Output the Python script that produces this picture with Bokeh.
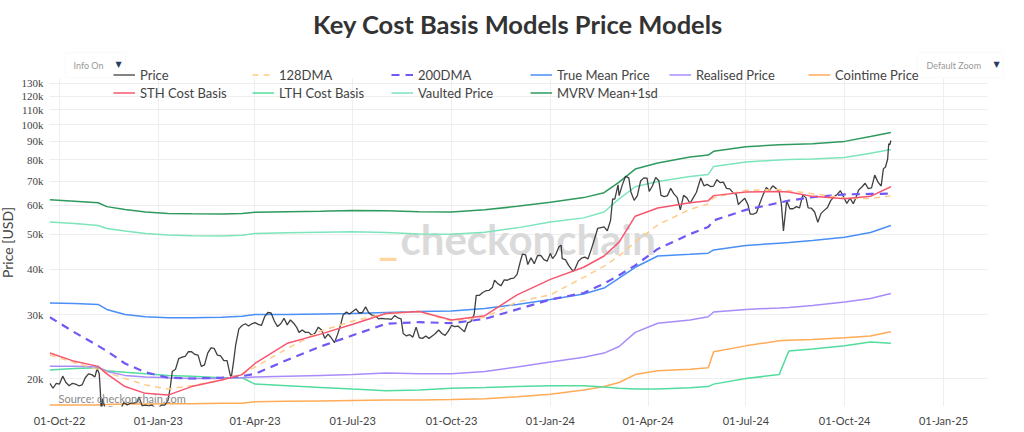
import numpy as np
import pandas as pd
from bokeh.plotting import figure
from bokeh.models import (Range1d, FixedTicker, DatetimeTickFormatter, ColumnDataSource,
                          Legend, LegendItem, Label, LabelSet, BoxAnnotation)
from bokeh.embed import file_html
from bokeh.resources import INLINE

TITLE = "Key Cost Basis Models Price Models"
FONT = "Lato"

# ---------------- data (USD thousands) ----------------
price_dates = [
    "2022-09-22", "2022-09-25", "2022-09-28",
    "2022-10-01", "2022-10-04", "2022-10-07", "2022-10-10", "2022-10-13", "2022-10-16", "2022-10-19", "2022-10-22", "2022-10-25", "2022-10-28", "2022-10-31",
    "2022-11-03", "2022-11-05", "2022-11-07", "2022-11-08", "2022-11-09", "2022-11-10", "2022-11-13", "2022-11-16", "2022-11-19", "2022-11-21", "2022-11-24", "2022-11-27", "2022-11-30",
    "2022-12-03", "2022-12-06", "2022-12-09", "2022-12-12", "2022-12-14", "2022-12-17", "2022-12-20", "2022-12-23", "2022-12-26", "2022-12-29",
    "2023-01-01", "2023-01-04", "2023-01-07", "2023-01-10", "2023-01-12", "2023-01-14", "2023-01-17", "2023-01-20", "2023-01-23", "2023-01-26", "2023-01-29",
    "2023-02-01", "2023-02-04", "2023-02-07", "2023-02-10", "2023-02-13", "2023-02-16", "2023-02-19", "2023-02-22", "2023-02-25", "2023-02-28",
    "2023-03-03", "2023-03-06", "2023-03-09", "2023-03-10", "2023-03-12", "2023-03-14", "2023-03-17", "2023-03-20", "2023-03-23", "2023-03-26", "2023-03-29",
    "2023-04-01", "2023-04-04", "2023-04-07", "2023-04-10", "2023-04-13", "2023-04-16", "2023-04-19", "2023-04-22", "2023-04-25", "2023-04-28",
    "2023-05-01", "2023-05-04", "2023-05-07", "2023-05-10", "2023-05-12", "2023-05-15", "2023-05-18", "2023-05-21", "2023-05-24", "2023-05-27", "2023-05-30",
    "2023-06-02", "2023-06-05", "2023-06-08", "2023-06-11", "2023-06-14", "2023-06-17", "2023-06-20", "2023-06-22", "2023-06-25", "2023-06-28",
    "2023-07-01", "2023-07-04", "2023-07-07", "2023-07-10", "2023-07-13", "2023-07-16", "2023-07-19", "2023-07-22", "2023-07-25", "2023-07-28", "2023-07-31",
    "2023-08-03", "2023-08-06", "2023-08-09", "2023-08-12", "2023-08-15", "2023-08-17", "2023-08-20", "2023-08-23", "2023-08-26", "2023-08-29",
    "2023-09-01", "2023-09-04", "2023-09-07", "2023-09-10", "2023-09-13", "2023-09-16", "2023-09-19", "2023-09-22", "2023-09-25", "2023-09-28",
    "2023-10-01", "2023-10-04", "2023-10-07", "2023-10-10", "2023-10-13", "2023-10-16", "2023-10-19", "2023-10-22", "2023-10-24", "2023-10-27", "2023-10-30",
    "2023-11-02", "2023-11-05", "2023-11-08", "2023-11-10", "2023-11-13", "2023-11-16", "2023-11-19", "2023-11-22", "2023-11-25", "2023-11-28",
    "2023-12-01", "2023-12-04", "2023-12-06", "2023-12-09", "2023-12-11", "2023-12-14", "2023-12-17", "2023-12-20", "2023-12-23", "2023-12-26", "2023-12-29",
    "2024-01-01", "2024-01-03", "2024-01-06", "2024-01-09", "2024-01-11", "2024-01-12", "2024-01-15", "2024-01-18", "2024-01-22", "2024-01-24", "2024-01-27", "2024-01-30",
    "2024-02-02", "2024-02-05", "2024-02-08", "2024-02-11", "2024-02-14", "2024-02-17", "2024-02-20", "2024-02-23", "2024-02-26", "2024-02-28",
    "2024-03-01", "2024-03-04", "2024-03-05", "2024-03-08", "2024-03-11", "2024-03-14", "2024-03-16", "2024-03-19", "2024-03-22", "2024-03-25", "2024-03-28", "2024-03-31",
    "2024-04-02", "2024-04-05", "2024-04-08", "2024-04-11", "2024-04-13", "2024-04-16", "2024-04-19", "2024-04-22", "2024-04-25", "2024-04-28",
    "2024-05-01", "2024-05-04", "2024-05-07", "2024-05-10", "2024-05-13", "2024-05-16", "2024-05-20", "2024-05-23", "2024-05-26", "2024-05-29",
    "2024-06-01", "2024-06-04", "2024-06-07", "2024-06-10", "2024-06-13", "2024-06-16", "2024-06-19", "2024-06-22", "2024-06-24", "2024-06-27", "2024-06-30",
    "2024-07-03", "2024-07-05", "2024-07-08", "2024-07-11", "2024-07-14", "2024-07-17", "2024-07-20", "2024-07-23", "2024-07-26", "2024-07-29",
    "2024-08-01", "2024-08-03", "2024-08-05", "2024-08-08", "2024-08-11", "2024-08-14", "2024-08-17", "2024-08-20", "2024-08-23", "2024-08-26", "2024-08-28", "2024-08-31",
    "2024-09-03", "2024-09-06", "2024-09-09", "2024-09-12", "2024-09-15", "2024-09-18", "2024-09-21", "2024-09-24", "2024-09-27", "2024-09-30",
    "2024-10-03", "2024-10-06", "2024-10-09", "2024-10-11", "2024-10-14", "2024-10-17", "2024-10-20", "2024-10-23", "2024-10-26", "2024-10-29",
    "2024-11-01", "2024-11-04", "2024-11-06", "2024-11-08", "2024-11-10", "2024-11-11", "2024-11-12", "2024-11-13",
]
price_k = [
    19.4, 18.8, 19.4,
    19.3, 20.3, 19.5, 19.1, 19.4, 19.3, 19.1, 19.2, 20.1, 20.6, 20.5,
    20.2, 21.3, 20.6, 18.5, 15.9, 17.6, 16.3, 16.7, 16.7, 15.8, 16.6, 16.5, 17.2,
    16.9, 17.1, 17.1, 17.2, 17.8, 16.8, 16.9, 16.8, 16.9, 16.6,
    16.6, 16.9, 16.9, 17.4, 18.8, 20.9, 21.2, 22.7, 22.9, 23.0, 23.7,
    23.7, 23.3, 23.2, 21.6, 21.8, 23.5, 24.3, 24.2, 23.2, 23.1,
    22.4, 22.4, 20.4, 20.2, 22.2, 24.7, 27.4, 28.0, 28.3, 27.9, 28.3,
    28.5, 28.2, 28.0, 29.6, 30.4, 30.3, 28.8, 27.8, 28.3, 29.3,
    28.1, 29.0, 28.4, 27.6, 26.8, 27.2, 26.8, 26.8, 26.3, 26.7, 27.7,
    27.2, 25.8, 26.5, 25.9, 25.1, 26.5, 28.3, 29.9, 30.5, 30.1,
    30.6, 31.1, 30.3, 30.4, 31.5, 30.3, 29.9, 29.8, 29.2, 29.3, 29.2,
    29.2, 29.1, 29.8, 29.4, 29.2, 26.6, 26.2, 26.4, 26.0, 27.7,
    25.9, 25.8, 26.2, 25.8, 26.2, 26.6, 27.2, 26.6, 26.3, 27.0,
    28.0, 27.8, 27.9, 27.4, 26.9, 28.5, 28.7, 30.0, 33.9, 33.9, 34.5,
    34.9, 35.0, 35.6, 37.3, 36.5, 36.0, 37.4, 37.3, 37.7, 37.8,
    38.7, 42.0, 44.0, 43.8, 41.2, 43.0, 41.4, 43.6, 43.7, 42.5, 42.1,
    44.2, 42.8, 43.9, 46.1, 46.6, 42.8, 42.5, 41.0, 39.5, 40.1, 42.1, 42.9,
    43.2, 42.7, 45.3, 48.3, 51.8, 52.1, 52.3, 51.0, 54.5, 62.5,
    62.4, 68.3, 63.8, 68.3, 72.1, 71.4, 65.3, 61.9, 63.8, 70.0, 71.4, 71.3,
    65.5, 67.8, 71.6, 70.1, 63.9, 63.4, 63.8, 66.8, 64.5, 63.1,
    58.3, 63.9, 62.9, 60.8, 62.9, 65.2, 71.4, 67.9, 68.5, 67.6,
    67.8, 70.6, 69.3, 69.5, 66.8, 66.6, 65.0, 64.3, 60.3, 61.6, 62.7,
    60.2, 56.7, 56.7, 57.3, 60.8, 64.1, 67.2, 65.9, 67.9, 66.8,
    65.4, 60.7, 51.0, 61.7, 58.7, 58.7, 59.5, 59.0, 64.1, 62.9, 59.0, 58.9,
    57.5, 53.9, 57.0, 58.1, 59.2, 61.8, 63.3, 64.3, 65.8, 63.3,
    60.7, 62.8, 60.6, 62.5, 66.1, 67.4, 69.0, 66.7, 67.0, 72.7,
    69.5, 67.8, 75.6, 76.5, 80.5, 88.7, 88.0, 90.5,
]

model_dates = ["2022-09-22", "2022-10-15", "2022-11-06", "2022-11-14", "2022-12-01", "2022-12-20",
               "2023-01-10", "2023-02-01", "2023-03-01", "2023-03-20", "2023-04-01", "2023-05-01",
               "2023-06-01", "2023-07-01", "2023-08-01", "2023-09-01", "2023-10-01", "2023-11-01",
               "2023-12-01", "2024-01-01", "2024-02-01", "2024-02-20", "2024-03-05", "2024-03-20",
               "2024-04-10", "2024-05-10", "2024-05-27", "2024-06-01", "2024-07-01", "2024-08-01",
               "2024-08-10", "2024-09-01", "2024-10-01", "2024-10-25", "2024-11-13"]
mvrv_mean_1sd_k = [62.2, 61.6, 61.0, 59.5, 58.4, 57.5, 57.0, 56.9, 56.8, 57.0, 57.4, 57.6,
                   57.8, 58.1, 58.0, 57.6, 57.5, 58.3, 59.6, 61.2, 63.0, 65.0, 69.5, 75.5,
                   78.5, 81.5, 82.5, 84.5, 87.0, 88.1, 88.3, 88.6, 90.0, 92.8, 95.2]
vaulted_price_k = [54.0, 53.5, 52.8, 51.8, 51.0, 50.2, 49.7, 49.5, 49.4, 49.6, 50.2, 50.4,
                   50.6, 50.7, 50.5, 50.0, 49.9, 50.6, 52.0, 54.0, 55.4, 57.5, 62.5, 67.5,
                   69.8, 72.0, 73.0, 76.8, 79.0, 80.0, 80.2, 80.5, 81.3, 83.5, 85.5]
true_mean_price_k = [32.3, 32.2, 32.0, 31.0, 30.0, 29.6, 29.4, 29.4, 29.5, 29.7, 30.0, 30.0,
                     30.1, 30.2, 30.4, 30.6, 30.7, 31.2, 32.0, 33.0, 34.2, 35.5, 37.8, 40.5,
                     43.5, 44.0, 44.3, 45.2, 46.5, 47.2, 47.4, 48.0, 49.0, 50.5, 52.8]
realised_price_k = [21.6, 21.6, 21.5, 20.9, 20.4, 20.2, 20.1, 20.0, 20.0, 20.1, 20.2, 20.3,
                    20.4, 20.5, 20.7, 20.6, 20.6, 20.9, 21.5, 22.2, 22.9, 23.5, 24.5, 26.8,
                    28.4, 29.0, 29.6, 30.5, 31.0, 31.3, 31.4, 31.8, 32.5, 33.2, 34.3]
cointime_price_k = [16.9, 16.9, 16.9, 16.95, 17.0, 17.0, 17.05, 17.05, 17.1, 17.1, 17.25, 17.3,
                    17.35, 17.4, 17.45, 17.45, 17.5, 17.6, 17.8, 18.1, 18.6, 19.0, 19.5, 20.5,
                    21.0, 21.2, 21.4, 23.7, 24.6, 25.4, 25.5, 25.6, 25.9, 26.2, 26.9]
lth_cost_basis_k = [21.1, 21.3, 21.4, 21.0, 20.8, 20.6, 20.4, 20.3, 20.1, 20.1, 19.3, 19.1,
                    18.9, 18.7, 18.5, 18.6, 18.8, 18.9, 19.0, 19.1, 19.1, 18.95, 18.8, 18.7,
                    18.7, 18.85, 19.0, 19.3, 20.0, 20.5, 23.8, 24.1, 24.6, 25.2, 25.0]
sth_cost_basis_k = [23.5, 22.3, 21.6, 20.6, 19.0, 18.2, 18.0, 19.0, 19.8, 20.5, 22.0, 25.0,
                    26.5, 28.2, 30.2, 30.6, 29.0, 29.8, 34.0, 37.5, 40.5, 43.5, 47.5, 56.0,
                    59.0, 61.0, 61.8, 63.8, 65.3, 65.5, 65.3, 63.5, 62.5, 63.5, 67.5]
dma128_k = [23.2, 22.1, 21.2, 20.8, 20.0, 19.2, 18.7, 19.1, 19.8, 20.6, 21.5, 24.2,
            27.0, 28.8, 30.2, 30.6, 28.8, 29.5, 32.5, 34.0, 38.0, 40.8, 43.5, 47.5,
            53.0, 58.5, 60.5, 63.0, 66.0, 66.2, 65.8, 64.6, 62.8, 62.6, 63.7]
dma200_k = [29.5, 26.8, 24.6, 23.8, 22.0, 20.8, 20.1, 20.0, 20.1, 20.3, 20.6, 22.5,
            24.5, 26.3, 28.3, 28.6, 28.4, 29.2, 31.0, 33.0, 34.4, 36.5, 38.5, 41.0,
            45.5, 50.0, 52.3, 54.5, 58.3, 61.0, 61.8, 63.2, 64.3, 64.5, 64.6]

y_ticks = [20000, 30000, 40000, 50000, 60000, 70000, 80000, 90000, 100000, 110000, 120000, 130000]
y_tick_labels = ["20k", "30k", "40k", "50k", "60k", "70k", "80k", "90k", "100k", "110k", "120k", "130k"]
x_tick_dates = ["2022-10-01", "2023-01-01", "2023-04-01", "2023-07-01", "2023-10-01",
                "2024-01-01", "2024-04-01", "2024-07-01", "2024-10-01", "2025-01-01"]

assert len(price_dates) == len(price_k)

DAY = 86400000.0


def ms(d):
    return pd.Timestamp(d).value / 1e6


# ---------------- layout geometry (pixels) ----------------
W, H = 1024, 432
FB = 406                     # frame bottom; frame spans the canvas above and across
PLOT_LEFT, PLOT_TOP, PLOT_RIGHT = 49, 78, 987
PX_DAY = (943 - 59) / 823.0  # horizontal scale
PX_DEC = 363.0               # pixels per decade (log y)
Y20 = 378                    # screen y of the 20k gridline
X_OCT22 = 59                 # screen x of 01-Oct-22


def x_at(px):
    return ms("2022-10-01") + (px - X_OCT22) / PX_DAY * DAY


def y_at(py):
    return 20000 * 10 ** ((Y20 - py) / PX_DEC)


p = figure(width=W, height=H, x_axis_type="datetime", y_axis_type="log",
           x_range=Range1d(x_at(0), x_at(W)), y_range=Range1d(y_at(FB), y_at(0)),
           output_backend="svg", toolbar_location=None,
           min_border_left=0, min_border_right=0, min_border_top=0, min_border_bottom=H - FB,
           background_fill_color="white", border_fill_color="white")
p.outline_line_color = None

ax = p.xaxis
ax.axis_line_color = None
ax.major_tick_line_color = None
ax.minor_tick_line_color = None
ax.major_tick_out = 0
ax.major_tick_in = 0
ax.minor_tick_out = 0
ax.minor_tick_in = 0
ax.major_label_text_font = FONT
ax.major_label_text_font_size = "11px"
ax.major_label_text_color = "#444444"
ax.major_label_standoff = 7
ax.ticker = FixedTicker(ticks=[ms(d) for d in x_tick_dates])
fmt = "%d-%b-%y"
ax.formatter = DatetimeTickFormatter(days=fmt, months=fmt, years=fmt)
p.yaxis.ticker = FixedTicker(ticks=y_ticks)
p.yaxis.visible = False
p.xgrid.grid_line_color = "#eeeeee"
p.ygrid.grid_line_color = "#eeeeee"

# watermark (behind lines)
WM_BASE = 238
p.add_layout(Label(x=378, y=FB - WM_BASE, x_units="screen", y_units="screen", text="_",
                   text_font=FONT, text_font_style="bold", text_font_size="42px",
                   text_color="#fdd6a4", text_baseline="alphabetic", level="underlay"))
p.add_layout(Label(x=400, y=FB - WM_BASE, x_units="screen", y_units="screen", text="checkonchain",
                   text_font=FONT, text_font_style="bold", text_font_size="42px",
                   text_color="#dadada", text_baseline="alphabetic", level="underlay"))

md = pd.to_datetime(model_dates)
k = 1000.0
r = {}
r["Cointime Price"] = p.line(md, np.array(cointime_price_k) * k, line_color="#ffab57", line_width=1.5)
r["LTH Cost Basis"] = p.line(md, np.array(lth_cost_basis_k) * k, line_color="#52dc9e", line_width=1.5)
r["Realised Price"] = p.line(md, np.array(realised_price_k) * k, line_color="#a98cfb", line_width=1.5)
r["True Mean Price"] = p.line(md, np.array(true_mean_price_k) * k, line_color="#4a8ff5", line_width=1.5)
r["Vaulted Price"] = p.line(md, np.array(vaulted_price_k) * k, line_color="#7de5bb", line_width=1.5)
r["MVRV Mean+1sd"] = p.line(md, np.array(mvrv_mean_1sd_k) * k, line_color="#2f9a5e", line_width=1.5)
r["Price"] = p.line(pd.to_datetime(price_dates), np.array(price_k) * k, line_color="#2b2b2b",
                    line_width=1.3, line_alpha=0.9)
r["200DMA"] = p.line(md, np.array(dma200_k) * k, line_color="#7157f4", line_width=2.2, line_dash="8 6")
r["128DMA"] = p.line(md, np.array(dma128_k) * k, line_color="#ffcb85", line_width=1.5, line_dash="6 5")
r["STH Cost Basis"] = p.line(md, np.array(sth_cost_basis_k) * k, line_color="#f8566f", line_width=1.5)

# white margins around the plotting area (the frame spans the whole canvas above the x axis)
for kw in (dict(bottom=y_at(PLOT_TOP)), dict(left=x_at(PLOT_RIGHT)), dict(right=x_at(PLOT_LEFT))):
    p.add_layout(BoxAnnotation(fill_color="white", fill_alpha=1.0, line_alpha=0,
                               level="annotation", **kw))

# faint outlines of the two dropdown menus
for (l, rr) in ((65, 125), (917, 1003)):
    p.add_layout(BoxAnnotation(left=x_at(l), right=x_at(rr), top=y_at(52), bottom=y_at(77),
                               fill_alpha=0, line_color="#eeeeee", line_width=1,
                               level="annotation"))

# y tick labels
ysrc = ColumnDataSource(dict(y=y_ticks, text=y_tick_labels))
p.add_layout(LabelSet(x=PLOT_LEFT - 6, y="y", text="text", source=ysrc, x_units="screen",
                      text_font=FONT, text_font_size="11px", text_color="#444444",
                      text_align="right", text_baseline="middle"))

legend_order = ["Price", "128DMA", "200DMA", "True Mean Price", "Realised Price", "Cointime Price",
                "STH Cost Basis", "LTH Cost Basis", "Vaulted Price", "MVRV Mean+1sd"]
legend = Legend(items=[LegendItem(label=n, renderers=[r[n]]) for n in legend_order],
                location=(113, FB - 101), orientation="horizontal", ncols=6,
                label_text_font=FONT, label_text_font_size="13px", label_text_color="#444444",
                glyph_width=22, glyph_height=17, label_height=17, label_width=111,
                label_standoff=5, spacing=1, padding=0, margin=0,
                background_fill_alpha=0, border_line_alpha=0)
p.add_layout(legend, "center")


def screen_label(x, y, text, **kw):
    p.add_layout(Label(x=x, y=FB - y, x_units="screen", y_units="screen", text=text, **kw))


screen_label(517.5, 23, TITLE, text_font=FONT, text_font_style="bold", text_font_size="25.5px",
             text_color="#333333", text_align="center", text_baseline="middle")
screen_label(7, 242, "Price [USD]", angle=np.pi / 2, text_font=FONT, text_font_size="14px",
             text_color="#444444", text_align="center", text_baseline="middle")
screen_label(58, 398, "Source: checkonchain.com", text_font=FONT, text_font_size="11px",
             text_color="#888888", text_align="left", text_baseline="middle")
screen_label(73, 65, "Info On", text_font=FONT, text_font_size="9px", text_color="#999999",
             text_align="left", text_baseline="middle")
screen_label(118, 64, "▼", text_font="DejaVu Sans", text_font_size="8px", text_color="#2a3f5f",
             text_align="center", text_baseline="middle")
screen_label(926, 65, "Default Zoom", text_font=FONT, text_font_size="9px", text_color="#999999",
             text_align="left", text_baseline="middle")
screen_label(996, 64, "▼", text_font="DejaVu Sans", text_font_size="8px", text_color="#2a3f5f",
             text_align="center", text_baseline="middle")

open("out.html", "w").write(file_html(p, INLINE))
